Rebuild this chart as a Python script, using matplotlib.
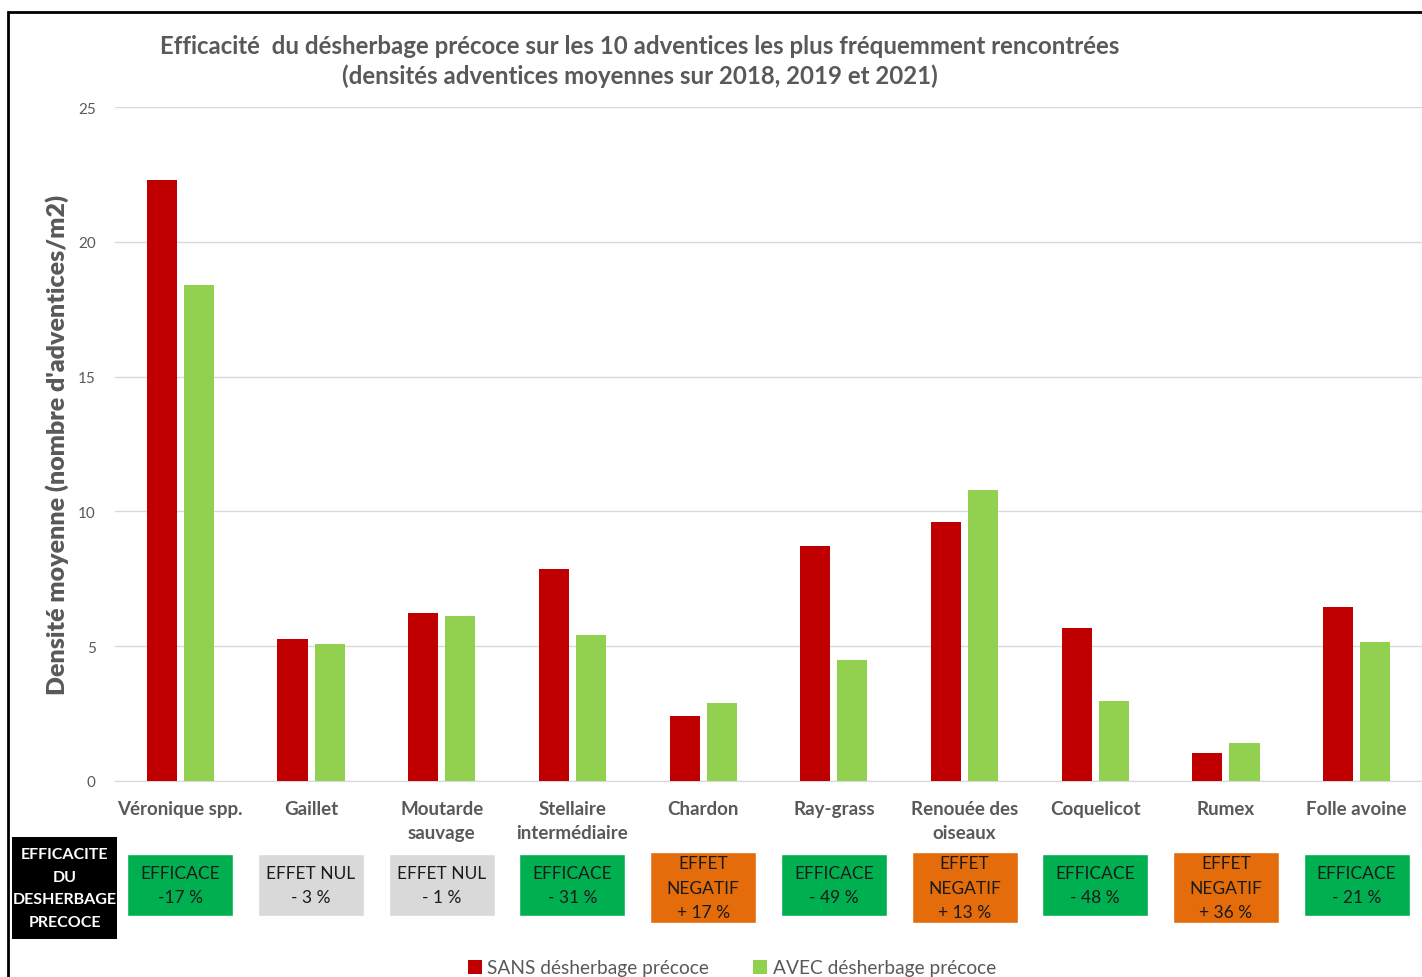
import matplotlib.pyplot as plt
import matplotlib.transforms as mtransforms
from matplotlib.patches import Rectangle
import numpy as np

plt.rcParams['font.family'] = ['Lato', 'DejaVu Sans']

categories = ["Véronique spp.", "Gaillet", "Moutarde\nsauvage", "Stellaire\nintermédiaire",
              "Chardon", "Ray-grass", "Renouée des\noiseaux", "Coquelicot", "Rumex", "Folle avoine"]
sans = [22.3, 5.25, 6.25, 7.85, 2.42, 8.7, 9.6, 5.67, 1.05, 6.47]
avec = [18.4, 5.07, 6.13, 5.4, 2.9, 4.47, 10.8, 2.95, 1.42, 5.14]
effets = ["EFFICACE\n-17 %", "EFFET NUL\n- 3 %", "EFFET NUL\n- 1 %", "EFFICACE\n- 31 %",
          "EFFET\nNEGATIF\n+ 17 %", "EFFICACE\n- 49 %", "EFFET\nNEGATIF\n+ 13 %",
          "EFFICACE\n- 48 %", "EFFET\nNEGATIF\n+ 36 %", "EFFICACE\n- 21 %"]
effet_type = ["eff", "nul", "nul", "eff", "neg", "eff", "neg", "eff", "neg", "eff"]

box_colors = {"eff": "#00B050", "nul": "#D9D9D9", "neg": "#E46C0A"}
gray = "#595959"

fig = plt.figure(figsize=(14.22, 9.78), dpi=100)
ax = fig.add_axes([115/1422, 1-782/978, 1307/1422, (782-108)/978])

x = np.arange(len(categories))
w = 0.23
ax.bar(x - 0.142, sans, w, color="#C00000", label="SANS désherbage précoce", zorder=3)
ax.bar(x + 0.142, avec, w, color="#92D050", label="AVEC désherbage précoce", zorder=3)

ax.set_xlim(-0.5, 9.5)
ax.set_ylim(0, 25)
ax.set_yticks([0, 5, 10, 15, 20, 25])
ax.grid(axis="y", color="#D9D9D9", linewidth=1, zorder=0)
for s in ["top", "right", "left"]:
    ax.spines[s].set_visible(False)
ax.spines["bottom"].set_color("#D9D9D9")
ax.tick_params(length=0)
ax.tick_params(axis="y", labelsize=11, labelcolor=gray, pad=14)
ax.set_xticks(x)
ax.set_xticklabels(categories, fontsize=13.5, color=gray, fontweight="bold", linespacing=1.45)
ax.tick_params(axis="x", pad=14)
ax.set_ylabel("Densité moyenne (nombre d'adventices/m2)", fontsize=18, color=gray,
              fontweight="heavy", labelpad=6)

fig.text(640/1422, 1-46/978, "Efficacité  du désherbage précoce sur les 10 adventices les plus fréquemment rencontrées",
         ha="center", va="center", fontsize=17.3, fontweight="bold", color=gray)
fig.text(640/1422, 1-76/978, "(densités adventices moyennes sur 2018, 2019 et 2021)",
         ha="center", va="center", fontsize=17.3, fontweight="bold", color=gray)

# effect boxes under each category
trans = mtransforms.blended_transform_factory(ax.transData, fig.transFigure)
bw = 106 / 130.7
for i, (lab, t) in enumerate(zip(effets, effet_type)):
    if t == "neg":
        y0, y1 = 853, 924
    else:
        y0, y1 = 855, 917
    ax.add_patch(Rectangle((i - bw/2, 1 - y1/978), bw, (y1 - y0)/978, transform=trans,
                           facecolor=box_colors[t], edgecolor="white", linewidth=1,
                           clip_on=False, zorder=5))
    ax.text(i, 1 - (y0 + y1)/2/978, lab, transform=trans, ha="center", va="center",
            fontsize=12.5, color="#1a1a1a", linespacing=1.65, zorder=6, clip_on=False)

fig.patches.append(Rectangle((12/1422, 1-940/978), 105/1422, 102/978, transform=fig.transFigure,
                             facecolor="black", edgecolor="none"))
fig.text(64.5/1422, 1-889/978, "EFFICACITE\nDU\nDESHERBAGE\nPRECOCE", ha="center", va="center",
         fontsize=11.5, fontweight="bold", color="white", linespacing=1.8)

# outer frame
fig.patches.append(Rectangle((8/1422, -0.1), 1.2, 1.1 - 13/978, transform=fig.transFigure,
                             facecolor="none", edgecolor="black", linewidth=2))

leg = fig.legend(loc="center", bbox_to_anchor=(732/1422, 1-969/978), ncol=2, frameon=False,
                 fontsize=13.8, handlelength=0.7, handleheight=0.7, columnspacing=2.3,
                 handletextpad=0.3)
for t in leg.get_texts():
    t.set_color(gray)

fig.savefig("out.png", dpi=100)
